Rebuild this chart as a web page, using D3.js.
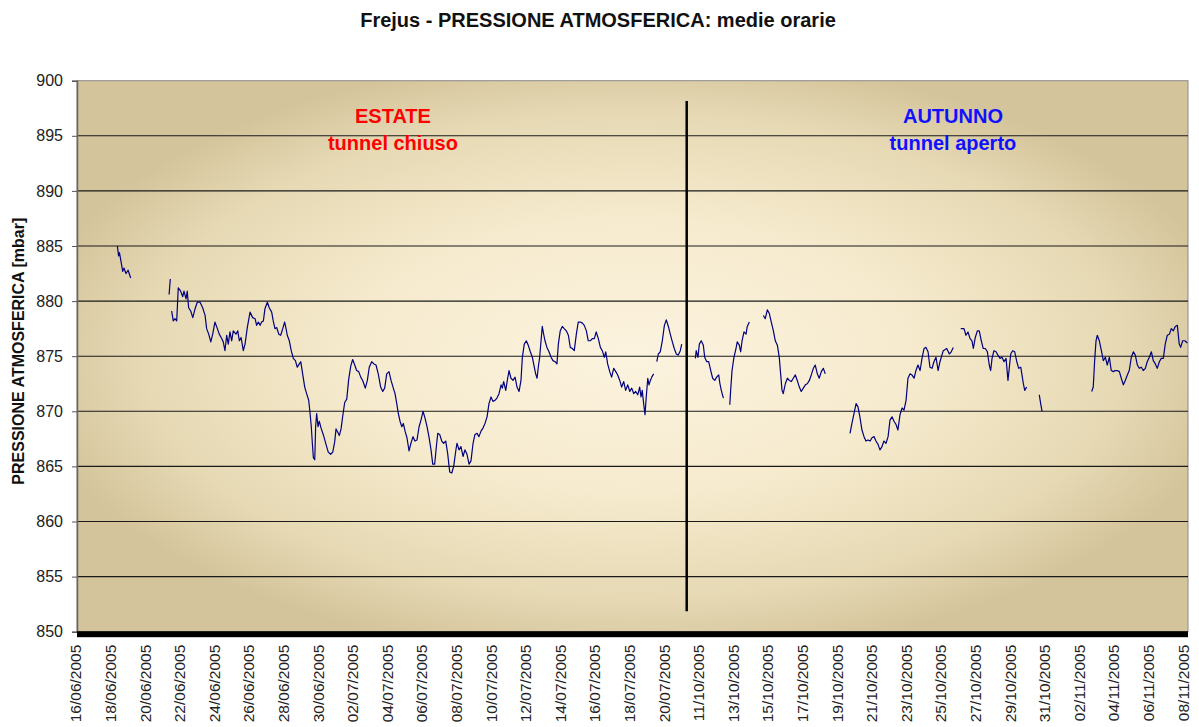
<!DOCTYPE html>
<html><head><meta charset="utf-8">
<script src="https://cdn.jsdelivr.net/npm/d3@7"></script>
<style>body{margin:0;background:#fff}svg{display:block}text{font-family:"Liberation Sans",Arial,sans-serif}</style>
</head><body><svg id="c" width="1199" height="727"></svg>
<script>
const chartTitle = "Frejus - PRESSIONE ATMOSFERICA: medie orarie";
const yTitle = "PRESSIONE ATMOSFERICA [mbar]";
const tickLabels = ["16/06/2005","18/06/2005","20/06/2005","22/06/2005","24/06/2005","26/06/2005","28/06/2005","30/06/2005","02/07/2005","04/07/2005","06/07/2005","08/07/2005","10/07/2005","12/07/2005","14/07/2005","16/07/2005","18/07/2005","20/07/2005","11/10/2005","13/10/2005","15/10/2005","17/10/2005","19/10/2005","21/10/2005","23/10/2005","25/10/2005","27/10/2005","29/10/2005","31/10/2005","02/11/2005","04/11/2005","06/11/2005","08/11/2005"];
const yTicks = [850,855,860,865,870,875,880,885,890,895,900];
// x = position along the category axis in days (0 = 16/06/2005, 36 = 11/10/2005), value in mbar
const seg1 = [[2.42,885.0],[2.49,884.1],[2.54,884.4],[2.63,883.6],[2.73,882.7],[2.80,883.0],[2.92,882.5],[3.04,882.8],[3.19,882.1]];
const seg2 = [[5.41,880.6],[5.48,882.0]];
const seg3 = [[5.56,879.1],[5.65,878.2],[5.75,878.4],[5.85,878.2],[5.94,881.2],[6.08,880.9],[6.20,880.4],[6.27,880.9],[6.39,880.2],[6.46,880.9],[6.54,879.4],[6.66,879.1],[6.78,878.5],[6.91,879.3],[7.04,879.9],[7.20,879.9],[7.35,879.4],[7.49,878.7],[7.58,877.5],[7.70,877.0],[7.82,876.3],[7.93,877.0],[8.06,878.1],[8.20,877.5],[8.31,877.0],[8.45,876.6],[8.54,876.3],[8.64,875.5],[8.74,876.9],[8.83,876.1],[8.93,877.2],[9.03,876.4],[9.12,877.3],[9.28,877.0],[9.38,877.3],[9.47,876.4],[9.57,876.7],[9.70,875.5],[9.80,876.1],[9.93,877.6],[10.09,879.0],[10.24,878.5],[10.38,878.4],[10.47,877.8],[10.57,878.1],[10.67,877.8],[10.76,878.1],[10.86,878.2],[10.95,879.3],[11.09,879.9],[11.20,879.4],[11.34,879.0],[11.43,878.2],[11.53,877.5],[11.63,877.6],[11.75,877.0],[11.86,876.9],[11.98,877.5],[12.09,878.1],[12.17,877.5],[12.24,876.9],[12.36,876.4],[12.47,875.5],[12.59,874.8],[12.71,874.6],[12.82,874.0],[12.94,874.3],[13.02,874.5],[13.13,873.4],[13.25,872.2],[13.36,871.6],[13.48,871.0],[13.56,869.8],[13.63,868.6],[13.69,867.1],[13.75,865.8],[13.83,865.6],[13.88,868.6],[13.94,869.8],[14.02,868.6],[14.09,869.1],[14.19,868.5],[14.32,867.9],[14.48,867.0],[14.61,866.3],[14.75,866.1],[14.87,866.3],[14.98,867.2],[15.06,868.4],[15.16,868.1],[15.25,867.8],[15.35,868.4],[15.45,869.6],[15.56,870.8],[15.68,871.1],[15.79,872.9],[15.91,874.1],[16.02,874.7],[16.14,874.2],[16.25,873.7],[16.37,873.6],[16.49,873.1],[16.60,872.8],[16.75,872.1],[16.87,872.8],[16.98,874.0],[17.12,874.5],[17.25,874.3],[17.37,874.2],[17.50,873.4],[17.64,872.2],[17.76,871.8],[17.87,872.1],[17.99,873.4],[18.12,873.6],[18.24,872.8],[18.37,872.1],[18.47,871.6],[18.57,870.7],[18.66,869.8],[18.76,869.1],[18.86,868.6],[18.95,868.9],[19.05,868.2],[19.16,867.6],[19.28,866.4],[19.39,867.1],[19.51,867.7],[19.62,867.3],[19.74,867.4],[19.86,868.6],[19.97,869.2],[20.09,870.0],[20.20,869.4],[20.32,868.6],[20.43,867.7],[20.55,866.5],[20.65,865.2],[20.76,865.2],[20.86,866.8],[20.94,868.0],[21.05,867.9],[21.17,867.3],[21.28,867.1],[21.40,867.3],[21.51,866.2],[21.63,864.5],[21.75,864.4],[21.86,865.0],[21.98,866.4],[22.05,867.1],[22.17,866.5],[22.28,866.8],[22.40,865.9],[22.51,866.5],[22.63,866.1],[22.75,865.2],[22.86,865.5],[22.98,867.1],[23.09,867.9],[23.21,868.0],[23.32,867.7],[23.44,868.2],[23.56,868.5],[23.67,868.9],[23.79,869.5],[23.90,870.7],[24.02,871.3],[24.13,870.9],[24.25,871.0],[24.36,871.2],[24.48,871.6],[24.60,872.4],[24.67,872.1],[24.75,872.7],[24.87,871.9],[24.98,873.0],[25.06,873.7],[25.17,873.0],[25.29,872.8],[25.41,873.1],[25.52,872.2],[25.64,871.8],[25.75,872.8],[25.83,874.9],[25.94,876.1],[26.06,876.4],[26.17,876.0],[26.29,875.4],[26.41,874.9],[26.52,874.0],[26.60,873.4],[26.68,873.0],[26.75,874.0],[26.83,874.9],[26.91,876.4],[26.98,877.7],[27.06,877.0],[27.14,876.4],[27.25,875.8],[27.37,875.4],[27.49,874.9],[27.60,874.6],[27.72,874.5],[27.83,874.3],[27.91,876.1],[28.02,877.3],[28.14,877.7],[28.25,877.5],[28.37,877.3],[28.49,876.9],[28.60,875.8],[28.72,875.7],[28.83,875.5],[28.95,877.0],[29.06,878.1],[29.18,878.1],[29.30,878.0],[29.41,877.8],[29.53,877.3],[29.64,876.4],[29.76,876.4],[29.87,876.6],[29.99,876.6],[30.10,877.2],[30.22,876.6],[30.34,875.8],[30.45,875.5],[30.57,874.9],[30.65,875.4],[30.76,874.3],[30.88,873.6],[30.99,873.1],[31.11,873.9],[31.23,873.6],[31.34,873.3],[31.46,872.8],[31.57,872.2],[31.69,872.7],[31.80,871.9],[31.92,872.4],[32.04,871.8],[32.15,872.1],[32.27,871.6],[32.38,871.8],[32.50,871.5],[32.61,872.2],[32.69,871.3],[32.76,871.9],[32.84,870.7],[32.92,869.7],[32.99,871.3],[33.08,873.0],[33.15,872.4],[33.23,872.8],[33.31,873.1],[33.42,873.4]];
const seg4 = [[33.60,874.5],[33.69,875.2],[33.80,875.4],[33.92,876.4],[34.04,877.8],[34.15,878.3],[34.27,877.7],[34.38,877.0],[34.50,876.3],[34.61,875.7],[34.73,875.2],[34.84,875.1],[34.96,875.5],[35.04,876.1]];
const seg5 = [[35.83,874.8],[35.88,875.5],[35.98,874.9],[36.06,876.1],[36.17,876.4],[36.29,876.0],[36.37,874.9],[36.49,874.5],[36.60,874.5],[36.72,873.7],[36.83,873.0],[36.95,872.8],[37.06,873.1],[37.18,873.3],[37.25,872.5],[37.33,871.9],[37.45,871.2]];
const seg6 = [[37.82,870.6],[37.87,871.9],[37.95,873.7],[38.06,874.9],[38.18,875.7],[38.25,876.3],[38.37,876.0],[38.45,875.4],[38.53,876.4],[38.64,877.2],[38.76,877.0],[38.83,877.7],[38.95,878.1]];
const seg7 = [[39.76,878.7],[39.87,878.4],[39.99,879.2],[40.10,878.9],[40.22,878.1],[40.34,877.3],[40.45,876.4],[40.57,876.0],[40.68,874.9],[40.76,873.4],[40.84,871.9],[40.91,871.6],[41.03,872.5],[41.15,873.0],[41.26,872.8],[41.38,872.7],[41.49,873.0],[41.61,873.3],[41.72,872.8],[41.84,872.2],[41.95,871.8],[42.07,872.1],[42.19,872.4],[42.30,872.5],[42.42,872.8],[42.53,873.3],[42.65,873.9],[42.76,874.2],[42.88,873.4],[42.99,873.0],[43.11,873.6],[43.23,873.9],[43.34,873.4]];
const seg8 = [[44.77,868.0],[44.88,868.9],[45.00,869.8],[45.12,870.7],[45.23,870.4],[45.35,869.4],[45.46,868.3],[45.58,867.7],[45.69,867.3],[45.81,867.4],[45.93,867.3],[46.04,867.6],[46.16,867.7],[46.27,867.3],[46.39,867.0],[46.50,866.5],[46.62,866.8],[46.73,867.3],[46.85,867.1],[46.97,867.7],[47.08,869.2],[47.20,869.5],[47.31,869.1],[47.43,868.8],[47.54,868.3],[47.66,869.7],[47.78,870.3],[47.89,870.1],[48.01,871.0],[48.12,873.0],[48.24,873.4],[48.35,873.3],[48.47,873.0],[48.58,873.7],[48.70,874.2],[48.82,873.7],[48.93,874.8],[49.05,875.7],[49.16,875.8],[49.28,875.4],[49.39,874.0],[49.51,873.9],[49.62,874.5],[49.74,874.9],[49.86,873.7],[49.97,874.5],[50.16,875.5],[50.36,875.7],[50.51,875.2],[50.62,875.4],[50.74,875.8]];
const seg9 = [[51.17,877.5],[51.36,877.5],[51.47,876.9],[51.59,877.2],[51.71,876.6],[51.82,876.4],[51.90,875.7],[52.01,876.7],[52.13,877.3],[52.24,877.3],[52.36,876.4],[52.47,875.7],[52.59,875.7],[52.71,875.4],[52.82,874.2],[52.90,873.7],[52.98,874.8],[53.09,875.5],[53.21,875.4],[53.32,875.1],[53.44,874.8],[53.56,874.9],[53.67,874.5],[53.79,874.8],[53.90,872.8],[53.98,874.0],[54.06,875.2],[54.17,875.5],[54.29,875.4],[54.41,874.5],[54.52,873.9],[54.64,874.0],[54.71,873.3],[54.79,872.5],[54.87,871.9],[54.98,872.2]];
const seg10 = [[55.71,871.5],[55.79,870.7],[55.87,870.0]];
const seg11 = [[58.74,871.8],[58.83,872.2],[58.91,874.6],[58.99,876.4],[59.06,876.9],[59.18,876.4],[59.30,875.5],[59.41,874.6],[59.53,874.9],[59.64,874.2],[59.76,874.9],[59.87,873.7],[59.99,873.6],[60.10,873.7],[60.22,873.7],[60.34,873.6],[60.45,873.0],[60.57,872.4],[60.68,872.8],[60.80,873.3],[60.91,873.7],[61.03,874.9],[61.15,875.4],[61.26,875.1],[61.38,874.2],[61.49,873.9],[61.61,874.0],[61.72,873.7],[61.84,873.9],[61.95,874.5],[62.07,874.9],[62.19,875.4],[62.30,874.6],[62.42,874.3],[62.53,873.9],[62.65,874.5],[62.76,874.8],[62.88,874.8],[62.99,876.1],[63.11,876.9],[63.23,877.0],[63.34,877.5],[63.46,877.3],[63.57,877.7],[63.69,877.8],[63.80,876.1],[63.88,875.8],[64.00,876.4],[64.12,876.4],[64.27,876.2]];
const segments = [seg1,seg2,seg3,seg4,seg5,seg6,seg7,seg8,seg9,seg10,seg11];
const seasonBreak = {day: 35.33, from: 898.15, to: 851.85};
const annotations = [
  {text:"ESTATE", day:18.35, value:896.2, color:"#FF0000"},
  {text:"tunnel chiuso", day:18.35, value:893.7, color:"#FF0000"},
  {text:"AUTUNNO", day:50.72, value:896.2, color:"#1010FF"},
  {text:"tunnel aperto", day:50.72, value:893.7, color:"#1010FF"}
];

const svg = d3.select("#c");
const L = 77, R = 1188, T = 80.7, B = 631.7;
const x = d3.scaleLinear().domain([0, 64]).range([75.5, 1182.7]);
const y = d3.scaleLinear().domain([850, 900]).range([B, T]);

const defs = svg.append("defs");
const rg = defs.append("radialGradient").attr("id","bg").attr("cx","50%").attr("cy","50%").attr("r","55%");
[[0,"#FCF3DF"],[0.45,"#F6EBCE"],[0.8,"#E6D9B4"],[1,"#D4C49B"]].forEach(s=>rg.append("stop").attr("offset",s[0]).attr("stop-color",s[1]));

svg.append("rect").attr("x",L).attr("y",T).attr("width",R-L).attr("height",B-T).attr("fill","url(#bg)").attr("stroke","#8a8a8a").attr("stroke-width",1);

// gridlines
svg.append("g").selectAll("line").data(yTicks.filter(v=>v>850 && v<900)).join("line")
  .attr("x1",L).attr("x2",R).attr("y1",d=>y(d)).attr("y2",d=>y(d))
  .attr("stroke","#1a1a1a").attr("stroke-width",1.1);

// y axis
const ya = svg.append("g").attr("transform",`translate(${L},0)`)
  .call(d3.axisLeft(y).tickValues(yTicks).tickSize(5).tickPadding(9).tickFormat(d3.format("d")));
ya.select(".domain").attr("stroke","#666").attr("stroke-width",1.5);
ya.selectAll(".tick line").attr("stroke","#555");
ya.selectAll("text").attr("font-size","16px").attr("fill","#222").attr("font-family","Liberation Sans, Arial, sans-serif");

// data lines
const line = d3.line().x(d=>x(d[0])).y(d=>y(d[1]));
svg.append("g").selectAll("path").data(segments).join("path")
  .attr("d",line).attr("fill","none").attr("stroke","#000080").attr("stroke-width",1.2).attr("stroke-linejoin","round");

// season separator
svg.append("line").attr("x1",x(seasonBreak.day)).attr("x2",x(seasonBreak.day))
  .attr("y1",y(seasonBreak.from)).attr("y2",y(seasonBreak.to)).attr("stroke","#000").attr("stroke-width",2.5);

// bottom axis bar
svg.append("rect").attr("x",L).attr("y",B-0.5).attr("width",R-L).attr("height",6).attr("fill","#000");

// x axis labels
const xa = svg.append("g").attr("transform",`translate(0,${B+5})`)
  .call(d3.axisBottom(x).tickValues(tickLabels.map((_,i)=>i*2)).tickSize(0).tickFormat((d,i)=>tickLabels[i]));
xa.select(".domain").remove();
xa.selectAll("text").attr("transform","rotate(-90)").attr("x",-8).attr("y",0).attr("dy","0.35em")
  .style("text-anchor","end").attr("font-size","15.5px").attr("fill","#222").attr("font-family","Liberation Sans, Arial, sans-serif");

// annotations
svg.append("g").selectAll("text").data(annotations).join("text")
  .attr("x",d=>x(d.day)).attr("y",d=>y(d.value)).attr("text-anchor","middle")
  .attr("font-size","20px").attr("font-weight","bold").attr("fill",d=>d.color).text(d=>d.text);

// titles
svg.append("text").attr("x",598).attr("y",27).attr("text-anchor","middle").attr("font-size","20px")
  .attr("font-weight","bold").attr("fill","#111").text(chartTitle);
svg.append("text").attr("transform",`translate(24,${(T+B)/2-5}) rotate(-90)`).attr("text-anchor","middle")
  .attr("font-size","16px").attr("font-weight","bold").attr("fill","#111").text(yTitle);
</script></body></html>
